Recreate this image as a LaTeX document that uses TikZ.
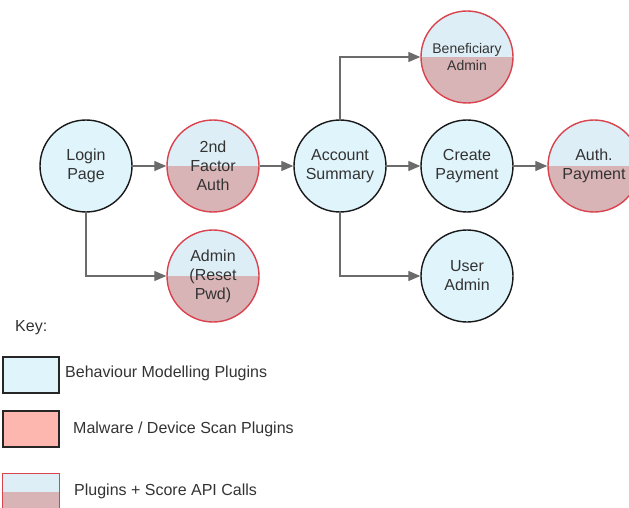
\documentclass[tikz,border=0pt]{standalone}
\usepackage{fontspec}
\setmainfont{Liberation Sans}
\usetikzlibrary{arrows.meta}
\definecolor{bluefill}{HTML}{E0F4FC}
\definecolor{splitblue}{HTML}{DDEEF6}
\definecolor{rosefill}{HTML}{D9B4B6}
\definecolor{malfill}{HTML}{FDB7AF}
\definecolor{redline}{HTML}{D8434E}
\definecolor{txt}{HTML}{333333}
\definecolor{arrgray}{HTML}{6B6B6B}
\tikzset{
  base/.style={circle, minimum size=92pt, inner sep=0pt, align=center, text=txt,
    font=\fontsize{16pt}{19pt}\selectfont},
  plainc/.style={base, draw=black!90, line width=1.4pt, fill=bluefill},
  splitc/.style={base, draw=redline, line width=1.4pt,
    path picture={\fill[splitblue] (path picture bounding box.north west) rectangle (path picture bounding box.east);
                  \fill[rosefill] (path picture bounding box.west) rectangle (path picture bounding box.south east);}},
  arr/.style={draw=arrgray, line width=1.3pt, -{Triangle[length=12pt,width=10pt]}, arrgray},
  keytxt/.style={anchor=west, text=txt, inner sep=0pt, font=\fontsize{16pt}{19pt}\selectfont},
  keybox/.style={draw=black!85, line width=1.4pt, minimum width=56pt, minimum height=36pt, inner sep=0pt}
}
\begin{document}
\begin{tikzpicture}[x=1pt,y=-1pt]
\useasboundingbox (0,0) rectangle (629,508);
\clip (0,0) rectangle (629,508);
\node[plainc] (login) at (86,166) {Login\\Page};
\node[splitc] (tfa) at (213,166) {2nd\\Factor\\Auth};
\node[plainc] (acct) at (340,166) {Account\\Summary};
\node[splitc, font=\fontsize{14pt}{17pt}\selectfont] (benef) at (467,57) {Beneficiary\\Admin};
\node[plainc] (create) at (467,166) {Create\\Payment};
\node[splitc] (auth) at (594,166) {Auth.\\Payment};
\node[plainc] (user) at (467,276) {User\\Admin};
\node[splitc] (admin) at (213,276) {Admin\\(Reset\\Pwd)};
\draw[arr] (login) -- (tfa);
\draw[arr] (tfa) -- (acct);
\draw[arr] (acct) -- (create);
\draw[arr] (create) -- (auth);
\draw[arr] (login.south) |- (admin.west);
\draw[arr] (acct.north) |- (benef.west);
\draw[arr] (acct.south) |- (user.west);
% key
\node[keytxt] (keylbl) at (15,328) {Key:};
\node[keybox, fill=bluefill] (k1) at (31,375) {};
\node[keytxt] (k1t) at (65,373) {Behaviour Modelling Plugins};
\node[keybox, fill=malfill] (k2) at (31,429) {};
\node[keytxt] (k2t) at (73,429) {Malware / Device Scan Plugins};
\node[keybox, draw=none, fill=splitblue, minimum height=44pt] (k3) at (31,496) {};
\fill[rosefill] (k3.north west |- {(0,492)}) rectangle (k3.south east);
\draw[redline, line width=1.4pt] (k3.north west) rectangle (k3.south east);
\node[keytxt] (k3t) at (74,491) {Plugins + Score API Calls};
\end{tikzpicture}
\end{document}
